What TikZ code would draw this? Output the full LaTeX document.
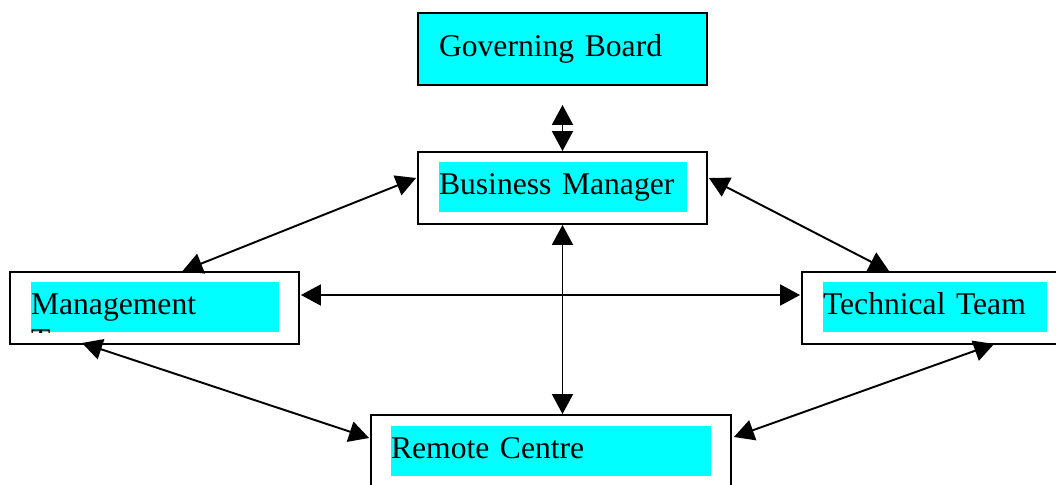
\documentclass[tikz,border=0pt]{standalone}
\usepackage{fontspec}
\setmainfont{Liberation Serif}
\usetikzlibrary{arrows.meta,calc}
\definecolor{hilite}{RGB}{0,255,255}

\begin{document}
\begin{tikzpicture}[x=0.02cm, y=-0.02cm, >={Triangle[length=0.4cm,width=0.42cm]},
  every node/.style={font=\fontsize{18}{21}\selectfont}]
  \tikzstyle{box}=[draw, line width=1.1pt, minimum width=5.78cm, minimum height=1.44cm, inner sep=0pt]
  \tikzstyle{hl}=[fill=hilite, inner sep=0pt, minimum height=1cm, text height=12pt, text depth=4pt, align=left]
  \tikzstyle{link}=[<->, line width=1.1pt]
  \useasboundingbox (0,0) rectangle (1056,484);
  \clip (0,0) rectangle (1056,484);
  % boxes
  \node[box, fill=hilite] (gb) at (562.5,49) {};
  \node[box] (bm) at (562.5,188) {};
  \node[box] (mt) at (154.5,308) {};
  \node[box] (tt) at (946.5,308) {};
  \node[box, minimum width=7.2cm] (rc) at (551,451) {};
  % highlighted labels
  \node[hl, text width=4.96cm] (gblabel) at (563,49) {Governing Board};
  \node[hl, text width=4.96cm] (bmlabel) at (563,187) {Business Manager};
  \node[hl, text width=4.96cm] (mtlabel) at (155,307) {Management};
  \node[hl, text width=4.48cm] (ttlabel) at (935,307) {Technical Team};
  \node[hl, text width=6.4cm] (rclabel) at (551,451) {Remote Centre};
  \begin{scope}
    \clip (mtlabel.south west) rectangle (mtlabel.north east);
    \node[anchor=base west, inner sep=0pt] (mtnext) at ($(mtlabel.base west)+(0,36)$) {Team};
  \end{scope}
  % links
  \draw[link] ($(gb.south)+(0,19)$) -- (bm.north);
  \draw[link] ($(bm.west)+(-1,-10)$) -- ($(mt.north)+(28,0)$);
  \draw[link] ($(bm.east)+(1,-10)$) -- ($(tt.north west)+(88,0)$);
  \draw[link] ($(mt.east)+(1,-13)$) -- ($(tt.west)+(-1,-13)$);
  \draw[link] (bm.south) -- ($(rc.north)+(11.5,0)$);
  \draw[link] ($(mt.south west)+(73,-2)$) -- ($(rc.west)+(-1,-13)$);
  \draw[link] ($(tt.south west)+(193,-1)$) -- ($(rc.east)+(2,-14)$);
\end{tikzpicture}
\end{document}
